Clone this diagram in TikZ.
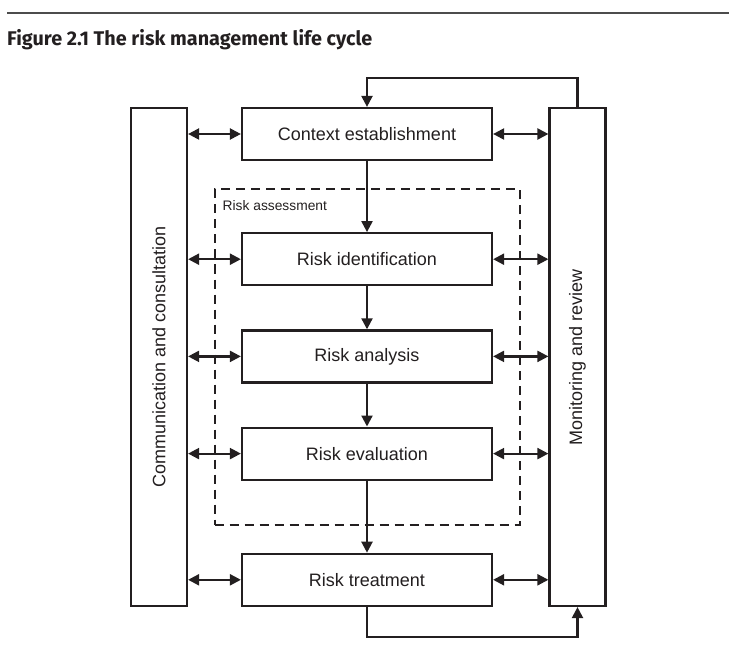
\documentclass[tikz,border=0pt]{standalone}
\usepackage{fontspec}
\setmainfont{Liberation Sans}
\newfontfamily\titlefont{Fira Sans}
\usepackage{xcolor}
\usetikzlibrary{arrows.meta, positioning}
\definecolor{ink}{HTML}{231F20}
\tikzstyle{stage}  = [rectangle, minimum width=250pt, minimum height=52pt, text centered,
                      draw=ink, line width=2.2pt, fill=white, text=ink, font=\fontsize{18}{20}\selectfont]
\tikzstyle{side}   = [rectangle, minimum width=56pt, minimum height=498pt, text centered,
                      draw=ink, line width=2.2pt, text=ink, font=\fontsize{18}{20}\selectfont]
\tikzstyle{arrow}  = [ink, line width=2.2pt, -{Triangle[length=11pt,width=11pt]}]
\tikzstyle{both}   = [ink, line width=2.2pt, {Triangle[length=11pt,width=11pt]}-{Triangle[length=11pt,width=11pt]}]

\begin{document}
\begin{tikzpicture}[x=1pt, y=1pt]
  \useasboundingbox (0,0) rectangle (755,-663);
  \draw [black!70, line width=2.4pt] (7,-13) -- (729,-13);
  \node (title) [anchor=west, inner sep=0pt, text=ink] at (7,-40)
    {\titlefont\bfseries\fontsize{19.8}{22}\selectfont Figure 2.1 The risk management life cycle};

  \node (assess) [rectangle, draw=ink, line width=2pt, dash pattern=on 9pt off 6pt,
                  minimum width=305pt, minimum height=335pt] at (367,-357) {};
  \node (assesslbl) [anchor=north west, inner sep=0pt, text=ink, font=\fontsize{13.8}{15}\selectfont]
    at ([xshift=9pt,yshift=-12pt]assess.north west) {Risk assessment};

  \node (ctx) [stage] at (367,-134) {Context establishment};
  \node (rid) [stage, below=71pt of ctx] {Risk identification};
  \node (ran) [stage, below=43pt of rid] {Risk analysis};
  \node (rev) [stage, below=43pt of ran] {Risk evaluation};
  \node (rtr) [stage, below=72pt of rev] {Risk treatment};

  \node (comm) [side] at (159,-357) {\rotatebox{90}{Communication and consultation}};
  \node (mon)  [side] at (577.5,-357) {\rotatebox{90}{Monitoring and review}};

  \draw [arrow] (ctx) -- (rid);
  \draw [arrow] (rid) -- (ran);
  \draw [arrow] (ran) -- (rev);
  \draw [arrow] (rev) -- (rtr);

  \foreach \s in {ctx, rid, ran, rev, rtr} {
    \draw [both] (\s.west -| comm.east) -- (\s.west);
    \draw [both] (\s.east) -- (\s.east -| mon.west);
  }

  \draw [arrow] (mon.north) -- ++(0,29) -| (ctx.north);
  \draw [arrow] (rtr.south) -- ++(0,-30) -| (mon.south);
\end{tikzpicture}
\end{document}
